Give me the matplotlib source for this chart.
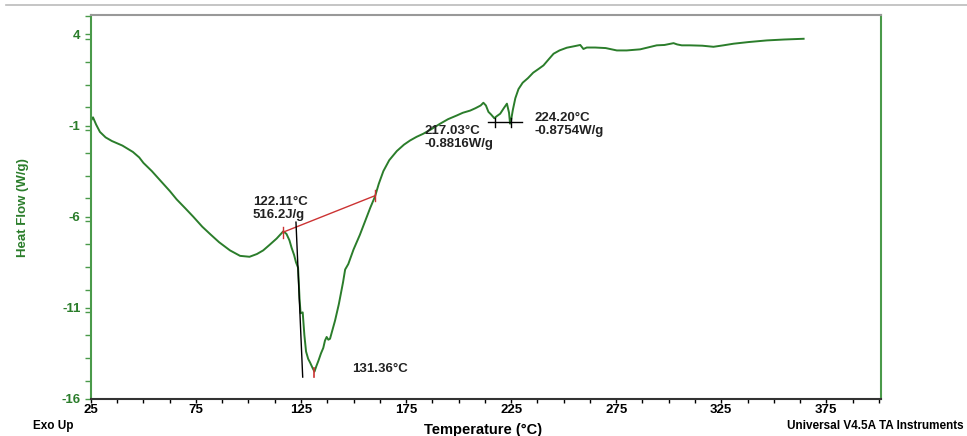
import matplotlib.pyplot as plt
from matplotlib.lines import Line2D
from matplotlib.ticker import MultipleLocator

plt.rcParams['font.family'] = ['Liberation Sans', 'DejaVu Sans']
plt.rcParams['axes.unicode_minus'] = False

# DSC trace
temp = [25.2, 26, 27.5, 29.3, 32, 35, 40, 45, 48, 50, 54, 57.9, 62.6, 65.8, 70, 73.7,
        78, 81.7, 86, 91.2, 96, 100.5, 104, 107, 110, 113.4, 116.6, 118.1, 119.5, 120.5,
        121.7, 122.6, 123.6, 124.3, 124.8, 125.8, 126.6, 127.4, 128.4, 129.3, 130.5, 131.4,
        132.3, 133.3, 134.5, 135.6, 136.4, 137.2, 138.0, 138.8, 140, 141.2, 143, 145, 146,
        147.5, 150, 153, 155.5, 158, 160.2, 162, 164.2, 167, 170.6, 174, 176.9, 180, 183.2,
        187, 191.2, 195, 199.1, 202, 205.5, 208, 210.5, 211.8, 213, 214.2, 215.5, 217.0,
        218, 219.8, 221.5, 223, 224.0, 224.5, 225.0, 225.8, 227, 228.5, 230.5, 233, 235.5,
        238, 240.4, 243, 245.2, 248, 251.5, 255, 257.9, 259.4, 261, 265, 270, 275.3, 280,
        286.4, 290, 294.3, 298, 302.3, 304, 306.2, 310, 316, 321.3, 326, 330.9, 338, 346.7,
        355, 364.2]
heat = [-0.7, -0.55, -0.95, -1.35, -1.65, -1.85, -2.1, -2.45, -2.75, -3.05, -3.5, -4.0,
        -4.6, -5.05, -5.55, -6.0, -6.55, -6.95, -7.4, -7.85, -8.15, -8.2, -8.05, -7.85,
        -7.55, -7.2, -6.8, -6.95, -7.3, -7.7, -8.1, -8.5, -8.8, -10.5, -11.3, -11.25, -12.5,
        -13.4, -13.8, -14.0, -14.3, -14.5, -14.2, -13.9, -13.5, -13.2, -12.8, -12.6, -12.75,
        -12.7, -12.2, -11.7, -10.8, -9.6, -8.9, -8.6, -7.8, -7.0, -6.25, -5.5, -4.9, -4.2,
        -3.5, -2.9, -2.4, -2.05, -1.82, -1.62, -1.45, -1.2, -0.9, -0.65, -0.45, -0.3, -0.18,
        -0.05, 0.1, 0.25, 0.1, -0.25, -0.4, -0.6, -0.5, -0.35, -0.05, 0.2, -0.3, -0.9, -0.7,
        -0.15, 0.5, 1.0, 1.35, 1.6, 1.9, 2.1, 2.3, 2.65, 2.94, 3.12, 3.27, 3.35, 3.42, 3.2,
        3.28, 3.28, 3.25, 3.12, 3.12, 3.18, 3.28, 3.4, 3.42, 3.52, 3.45, 3.4, 3.4, 3.38,
        3.32, 3.4, 3.49, 3.58, 3.67, 3.72, 3.76]

# analysis marks
area_x = [116.3, 160.2]
area_y = [-6.86, -4.85]
tangent_x = [122.6, 125.8]
tangent_y = [-6.3, -14.8]
peak_t, peak_h = 131.4, -14.5
onset_x = [214, 230]
onset_y = -0.82
onset_t = [217.4, 225.0]

green = '#2b7d2b'
spine_green = '#4a9a4a'

fig = plt.figure(figsize=(9.67, 4.36), dpi=100)
ax = fig.add_axes([0.094, 0.085, 0.817, 0.88])

ax.plot(temp, heat, color=green, lw=1.4)

ax.plot(area_x, area_y, color='#cc3333', lw=1.0)
for xx, yy in zip(area_x, area_y):
    ax.plot([xx, xx], [yy - 0.3, yy + 0.3], color='#cc3333', lw=1.0)
ax.plot(tangent_x, tangent_y, color='black', lw=1.0)
ax.plot([peak_t, peak_t], [peak_h - 0.3, peak_h + 0.2], color='#cc3333', lw=1.2)
ax.plot(onset_x, [onset_y, onset_y], color='black', lw=1.0)
for xx in onset_t:
    ax.plot([xx, xx], [onset_y - 0.25, onset_y + 0.25], color='black', lw=1.0)

tfont = dict(fontsize=9.5, fontweight='bold', color='#222222', linespacing=1.05)
ax.text(102, -5.55, '122.11°C\n516.2J/g', va='center', ha='left', **tfont)
ax.text(149.3, -14.35, '131.36°C', va='center', ha='left', **tfont)
ax.text(183.6, -1.65, '217.03°C\n-0.8816W/g', va='center', ha='left', **tfont)
ax.text(236, -0.95, '224.20°C\n-0.8754W/g', va='center', ha='left', **tfont)

ax.set_xlim(25, 401)
ax.set_ylim(-16, 5.05)
ax.xaxis.set_minor_locator(MultipleLocator(12.5))
ax.yaxis.set_minor_locator(MultipleLocator(1.25))
ax.set_xticks([25, 75, 125, 175, 225, 275, 325, 375])
ax.set_yticks([4, -1, -6, -11, -16])

ax.tick_params(axis='x', which='both', direction='out', length=3, width=1, colors='black',
               labelsize=9.5, pad=1)
ax.tick_params(axis='y', which='both', direction='out', length=4, width=1,
               color=spine_green, labelcolor=green, labelsize=9.5)
for lab in ax.get_xticklabels() + ax.get_yticklabels():
    lab.set_fontweight('bold')

ax.spines['left'].set_color(spine_green)
ax.spines['right'].set_color(spine_green)
ax.spines['top'].set_color('#999999')
ax.spines['bottom'].set_color('#333333')
for s in ax.spines.values():
    s.set_linewidth(1.5)

ax.set_ylabel('Heat Flow (W/g)', fontsize=9.5, fontweight='bold', color=green, labelpad=23)
fig.text(0.5, 1 - 430 / 436, 'Temperature (°C)', fontsize=10.5, fontweight='bold',
         ha='center', va='center')

fig.text(0.034, 0.024, 'Exo Up', fontsize=8.5, fontweight='bold', va='center')
fig.text(0.997, 0.024, 'Universal V4.5A TA Instruments', fontsize=8.5, fontweight='bold',
         va='center', ha='right')
fig.add_artist(Line2D([0.006, 1.0], [0.988, 0.988], color='#bbbbbb', lw=1.2))

fig.savefig('out.png', dpi=100)
